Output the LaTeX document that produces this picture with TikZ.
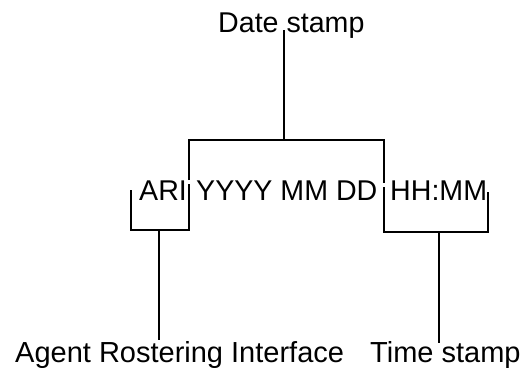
\documentclass[tikz,border=0pt]{standalone}
\usepackage{fontspec}
\setmainfont{Liberation Sans}
\begin{document}
\begin{tikzpicture}[x=1pt,y=-1pt,
  lbl/.style={inner sep=0pt,anchor=base west,font=\fontsize{28.6}{30}\selectfont},
  lblb/.style={inner sep=0pt,anchor=base west,font=\fontsize{29}{30}\selectfont},
  wire/.style={line width=1.6pt,line cap=butt,line join=miter}]
\useasboundingbox (0,0) rectangle (525,367);
% texts
\node[lbl] (date) at (218,32) {Date stamp};
\node[lbl] (ari) at (139,200) {ARI};
\node[lbl] (ymd) at (196,200) {YYYY MM DD};
\node[lbl] (hm) at (390,200) {HH:MM};
\node[lblb] (agent) at (15,362) {Agent Rostering Interface};
\node[lblb] (time) at (370,362) {Time stamp};
% coordinates
\coordinate (d0) at (284,30);
\coordinate (d1) at (284,140);
\coordinate (tl) at (189,140);
\coordinate (tlb) at (189,180);
\coordinate (tr) at (384,140);
\coordinate (trb) at (384,183);
\coordinate (al) at (131,190);
\coordinate (alb) at (131,230);
\coordinate (ar) at (189,184);
\coordinate (arb) at (189,230);
\coordinate (am) at (159,230);
\coordinate (a1) at (159,340);
\coordinate (hl) at (384,187);
\coordinate (hlb) at (384,232);
\coordinate (hr) at (488,192);
\coordinate (hrb) at (488,232);
\coordinate (hmid) at (439,232);
\coordinate (h1) at (439,343);
% connectors
\draw[wire] (d0) -- (d1);
\draw[wire] (tlb) -- (tl) -- (tr) -- (trb);
\draw[wire] (al) -- (alb) -- (arb) -- (ar);
\draw[wire] (am) -- (a1);
\draw[wire] (hl) -- (hlb) -- (hrb) -- (hr);
\draw[wire] (hmid) -- (h1);
\end{tikzpicture}
\end{document}
